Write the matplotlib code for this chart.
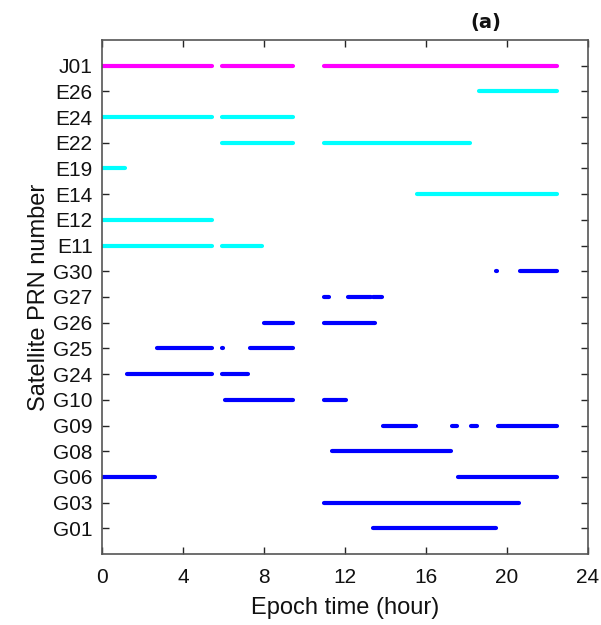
import matplotlib.pyplot as plt

# Satellite PRNs, bottom to top
prns = ['G01', 'G03', 'G06', 'G08', 'G09', 'G10', 'G24', 'G25', 'G26', 'G27',
        'G30', 'E11', 'E12', 'E14', 'E19', 'E22', 'E24', 'E26', 'J01']

# Tracking arcs (hours) for each PRN: start and end of every arc
arc_start = [
    [13.38],                              # G01
    [10.94],                              # G03
    [0.0, 17.58],                         # G06
    [11.33],                              # G08
    [13.88, 17.28, 18.24, 19.55],         # G09
    [6.06, 10.94],                        # G10
    [1.2, 5.92],                          # G24
    [2.7, 5.92, 7.3],                     # G25
    [7.98, 10.94],                        # G26
    [10.94, 12.15, 13.4],                 # G27
    [19.48, 20.65],                       # G30
    [0.0, 5.92],                          # E11
    [0.0],                                # E12
    [15.55],                              # E14
    [0.0],                                # E19
    [5.92, 10.94],                        # E22
    [0.0, 5.92],                          # E24
    [18.6],                               # E26
    [0.0, 5.92, 10.94],                   # J01
]
arc_end = [
    [19.46],
    [20.62],
    [2.62, 22.5],
    [17.23],
    [15.5, 17.52, 18.54, 22.5],
    [9.44, 12.06],
    [5.42, 7.22],
    [5.42, 5.98, 9.44],
    [9.44, 13.47],
    [11.22, 13.27, 13.8],
    [19.52, 22.5],
    [5.42, 7.9],
    [5.42],
    [22.5],
    [1.13],
    [9.44, 18.2],
    [5.42, 9.44],
    [22.5],
    [5.42, 9.44, 22.5],
]

system_color = {'G': '#0000ff', 'E': '#00ffff', 'J': '#ff00ff'}

plt.rcParams['font.family'] = ['Liberation Sans', 'DejaVu Sans']

fig = plt.figure(figsize=(6.01, 6.25), dpi=100)
ax = fig.add_axes([0.1705, 0.1136, 0.8075, 0.8224])

for row, prn in enumerate(prns, start=1):
    c = system_color[prn[0]]
    for s, e in zip(arc_start[row - 1], arc_end[row - 1]):
        ax.plot([s, e], [row, row], color=c, lw=3.0, solid_capstyle='round')

ax.set_xlim(0, 24)
ax.set_ylim(0, len(prns) + 1)
ax.set_xticks(range(0, 25, 4))
ax.set_yticks(range(1, len(prns) + 1))
ax.set_yticklabels(prns)

ax.tick_params(direction='in', length=5, width=1, top=True, right=True,
               colors='#262626', labelcolor='#111111', labelsize=15)
ax.tick_params(axis='x', pad=10)
ax.tick_params(axis='y', pad=7)
for sp in ax.spines.values():
    sp.set_color('#555555')
    sp.set_linewidth(1.2)

ax.set_xlabel('Epoch time (hour)', fontsize=17, labelpad=7, color='#111111')
ax.set_ylabel('Satellite PRN number', fontsize=17, labelpad=2, color='#111111')
ax.text(0.79, 1.035, '(a)', transform=ax.transAxes, ha='center', va='center',
        fontsize=14, fontweight='bold', family='DejaVu Sans', color='#111111')

fig.savefig('out.png', dpi=100)
